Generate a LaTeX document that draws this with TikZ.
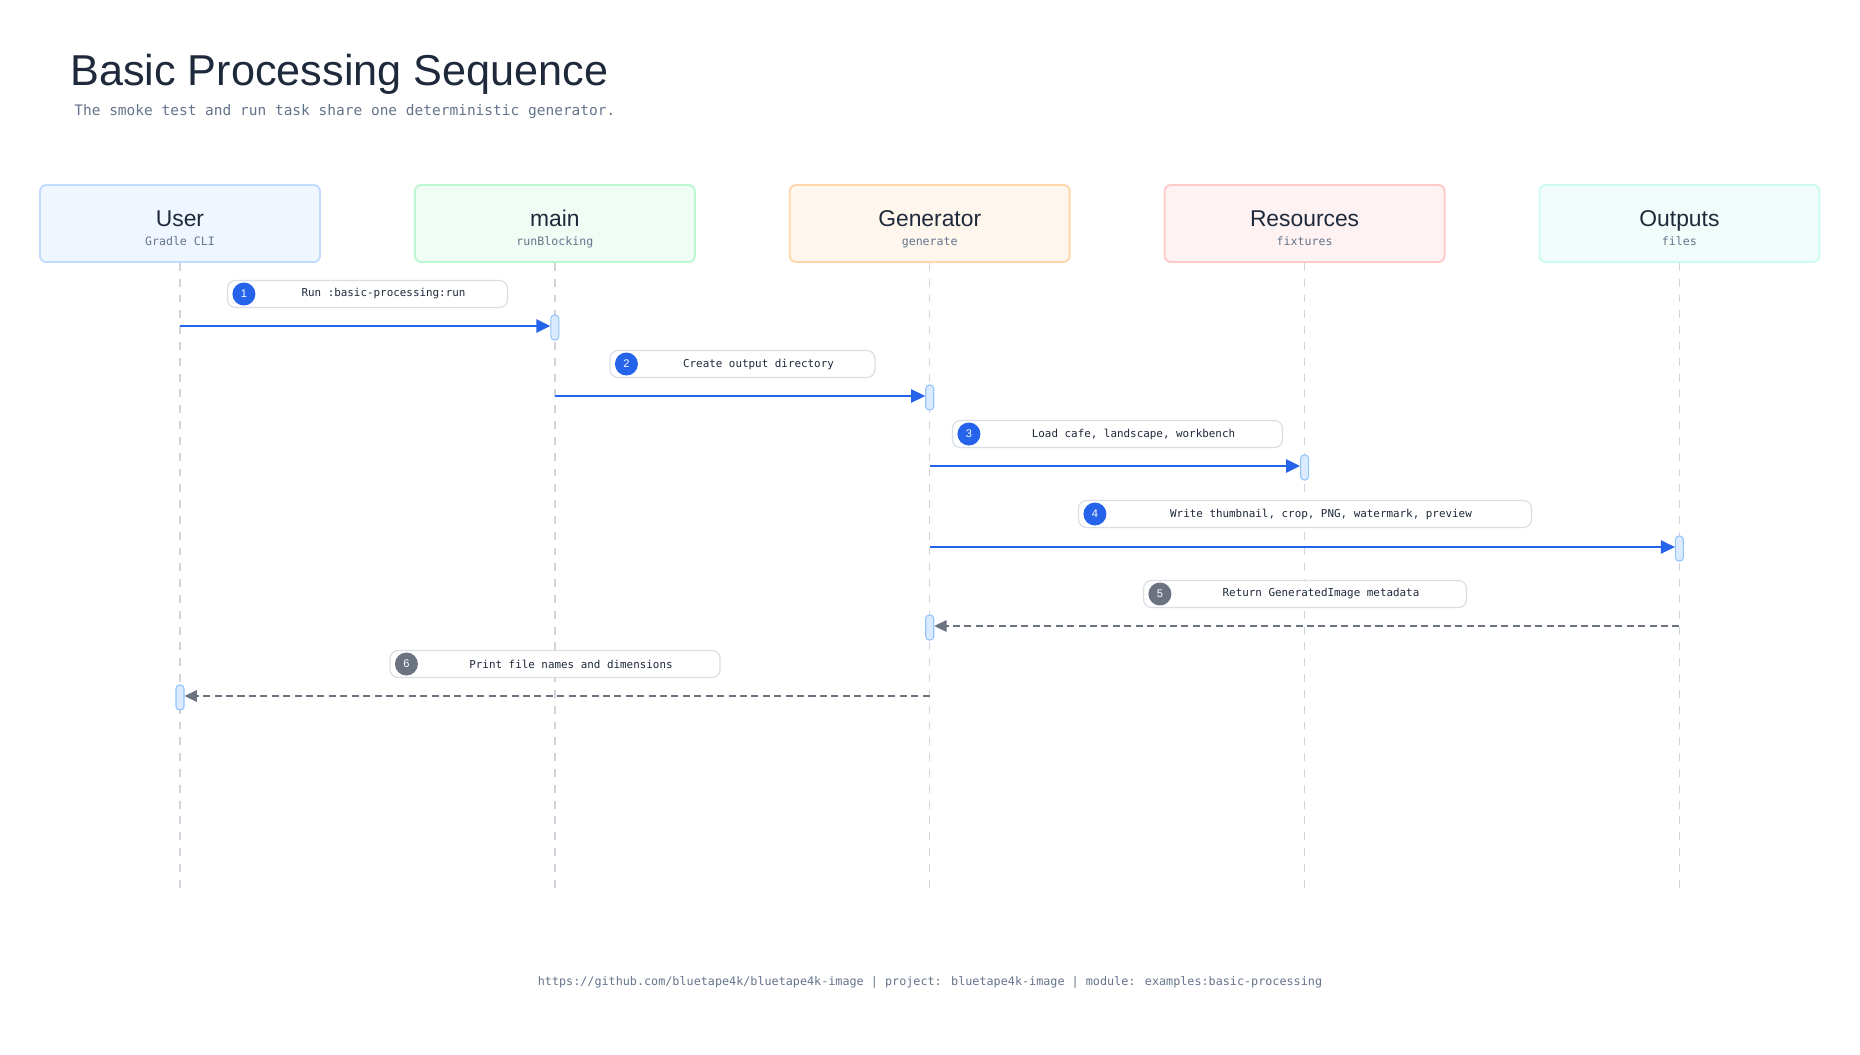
\documentclass[tikz,border=0pt]{standalone}
\usepackage{fontspec}
\setmainfont{Liberation Sans}
\newfontfamily\codefont{DejaVu Sans Mono}
\usetikzlibrary{arrows.meta}
\usetikzlibrary{positioning}

\definecolor{inkdark}{HTML}{1E293B}
\definecolor{inkgray}{HTML}{64748B}
\definecolor{flowblue}{HTML}{2563EB}
\definecolor{backgray}{HTML}{6B7280}
\definecolor{lanegray}{HTML}{D1D5DB}
\definecolor{chipline}{HTML}{DADFE6}
\definecolor{actfill}{HTML}{DBEAFE}
\definecolor{actline}{HTML}{93C5FD}
\definecolor{userfill}{HTML}{EFF6FF}
\definecolor{userline}{HTML}{BFDBFE}
\definecolor{mainfill}{HTML}{F0FDF4}
\definecolor{mainline}{HTML}{BBF7D0}
\definecolor{genfill}{HTML}{FFF7ED}
\definecolor{genline}{HTML}{FED7AA}
\definecolor{resfill}{HTML}{FEF2F2}
\definecolor{resline}{HTML}{FECACA}
\definecolor{outfill}{HTML}{F0FDFA}
\definecolor{outsline}{HTML}{CCFBF1}

\begin{document}
\begin{tikzpicture}[x=0.02cm,y=-0.02cm,
  actor/.style={draw,rounded corners=3.5pt,line width=1.1pt,minimum width=5.6cm,minimum height=1.54cm,inner sep=0pt},
  actorname/.style={anchor=base,inner sep=0pt,text=inkdark,font=\fontsize{13}{15}\selectfont},
  actorsub/.style={anchor=base,inner sep=0pt,text=inkgray,font=\codefont\fontsize{6.6}{8}\selectfont},
  lifeline/.style={draw=lanegray,line width=0.85pt,dash pattern=on 4.5pt off 4.5pt},
  actbar/.style={draw=actline,fill=actfill,line width=0.6pt,rounded corners=2pt,minimum width=0.16cm,minimum height=0.5cm,inner sep=0pt},
  chip/.style={draw=chipline,fill=white,line width=0.7pt,rounded corners=4.5pt,minimum height=0.54cm,inner sep=0pt},
  chiptext/.style={inner sep=0pt,text=inkdark,font=\codefont\fontsize{6.2}{8}\selectfont},
  numdot/.style={circle,fill=#1,text=white,minimum size=0.46cm,inner sep=0pt,font=\fontsize{6.3}{7}\selectfont},
  call/.style={draw=flowblue,line width=1.2pt,-{Triangle[length=8pt,width=7.5pt]}},
  reply/.style={draw=backgray,line width=1.1pt,dash pattern=on 4pt off 2.5pt,-{Triangle[length=7pt,width=6.5pt]}}]

  \fill[white] (0,0) rectangle (1860,1055);
  \useasboundingbox (0,0) rectangle (1860,1055);

  % heading
  \node[anchor=base west,inner sep=0pt,text=inkdark,font=\fontsize{24.6}{28}\selectfont] (title) at (70,85) {Basic Processing Sequence};
  \node[anchor=base west,inner sep=0pt,text=inkgray,font=\codefont\fontsize{8.25}{10}\selectfont] (subtitle) at (74,115) {The smoke test and run task share one deterministic generator.};

  % participants
  \node[actor,fill=userfill,draw=userline] (user) at (180,223.5) {};
  \node[actor,fill=mainfill,draw=mainline,right=1.86cm of user] (main) {};
  \node[actor,fill=genfill,draw=genline,right=1.86cm of main] (gen) {};
  \node[actor,fill=resfill,draw=resline,right=1.86cm of gen] (res) {};
  \node[actor,fill=outfill,draw=outsline,right=1.86cm of res] (out) {};

  \node[actorname] at ([yshift=-0.05cm]user.center) {User};
  \node[actorsub] at ([yshift=-0.44cm]user.center) {Gradle CLI};
  \node[actorname] at ([yshift=-0.05cm]main.center) {main};
  \node[actorsub] at ([yshift=-0.44cm]main.center) {runBlocking};
  \node[actorname] at ([yshift=-0.05cm]gen.center) {Generator};
  \node[actorsub] at ([yshift=-0.44cm]gen.center) {generate};
  \node[actorname] at ([yshift=-0.05cm]res.center) {Resources};
  \node[actorsub] at ([yshift=-0.44cm]res.center) {fixtures};
  \node[actorname] at ([yshift=-0.05cm]out.center) {Outputs};
  \node[actorsub] at ([yshift=-0.44cm]out.center) {files};

  % lifelines
  \coordinate (userend) at (user.south |- 0,893);
  \coordinate (mainend) at (main.south |- 0,893);
  \coordinate (genend) at (gen.south |- 0,893);
  \coordinate (resend) at (res.south |- 0,893);
  \coordinate (outend) at (out.south |- 0,893);
  \draw[lifeline] (user) -- (userend);
  \draw[lifeline] (main) -- (mainend);
  \draw[lifeline] (gen) -- (genend);
  \draw[lifeline] (res) -- (resend);
  \draw[lifeline] (out) -- (outend);

  % message labels
  \node[chip,minimum width=5.6cm] (lbl1) at (367.5,294) {};
  \node[numdot=flowblue] (n1) at ([xshift=0.34cm]lbl1.west) {1};
  \node[chiptext] at ([xshift=0.32cm]lbl1.center) {Run :basic-processing:run};

  \node[chip,minimum width=5.3cm] (lbl2) at (742.5,364) {};
  \node[numdot=flowblue] (n2) at ([xshift=0.34cm]lbl2.west) {2};
  \node[chiptext] at ([xshift=0.32cm]lbl2.center) {Create output directory};

  \node[chip,minimum width=6.6cm] (lbl3) at (1117.5,434) {};
  \node[numdot=flowblue] (n3) at ([xshift=0.34cm]lbl3.west) {3};
  \node[chiptext] at ([xshift=0.32cm]lbl3.center) {Load cafe, landscape, workbench};

  \node[chip,minimum width=9.06cm] (lbl4) at (1305,514) {};
  \node[numdot=flowblue] (n4) at ([xshift=0.34cm]lbl4.west) {4};
  \node[chiptext] at ([xshift=0.32cm]lbl4.center) {Write thumbnail, crop, PNG, watermark, preview};

  \node[chip,minimum width=6.46cm] (lbl5) at (1305,594) {};
  \node[numdot=backgray] (n5) at ([xshift=0.34cm]lbl5.west) {5};
  \node[chiptext] at ([xshift=0.32cm]lbl5.center) {Return GeneratedImage metadata};

  \node[chip,minimum width=6.6cm] (lbl6) at (555,664) {};
  \node[numdot=backgray] (n6) at ([xshift=0.34cm]lbl6.west) {6};
  \node[chiptext] at ([xshift=0.32cm]lbl6.center) {Print file names and dimensions};

  % activations
  \node[actbar] (act1) at (main.south |- 0,327.5) {};
  \node[actbar] (act2) at (gen.south |- 0,397.5) {};
  \node[actbar] (act3) at (res.south |- 0,467.5) {};
  \node[actbar] (act4) at (out.south |- 0,548.5) {};
  \node[actbar] (act5) at (gen.south |- 0,627.5) {};
  \node[actbar] (act6) at (user.south |- 0,697.5) {};

  % messages
  \coordinate (s1) at (user.south |- 0,326);
  \coordinate (s2) at (main.south |- 0,396);
  \coordinate (s3) at (gen.south |- 0,466);
  \coordinate (s4) at (gen.south |- 0,547);
  \coordinate (s5) at (out.south |- 0,626);
  \coordinate (s6) at (gen.south |- 0,696);
  \draw[call] (s1) -- (s1 -| act1.west);
  \draw[call] (s2) -- (s2 -| act2.west);
  \draw[call] (s3) -- (s3 -| act3.west);
  \draw[call] (s4) -- (s4 -| act4.west);
  \draw[reply] (s5) -- (s5 -| act5.east);
  \draw[reply] (s6) -- (s6 -| act6.east);

  % footer
  \node[text=inkgray,font=\codefont\fontsize{6.7}{8}\selectfont] (footer) at (930,982) {https://github.com/bluetape4k/bluetape4k-image | project: bluetape4k-image | module: examples:basic-processing};
\end{tikzpicture}
\end{document}
